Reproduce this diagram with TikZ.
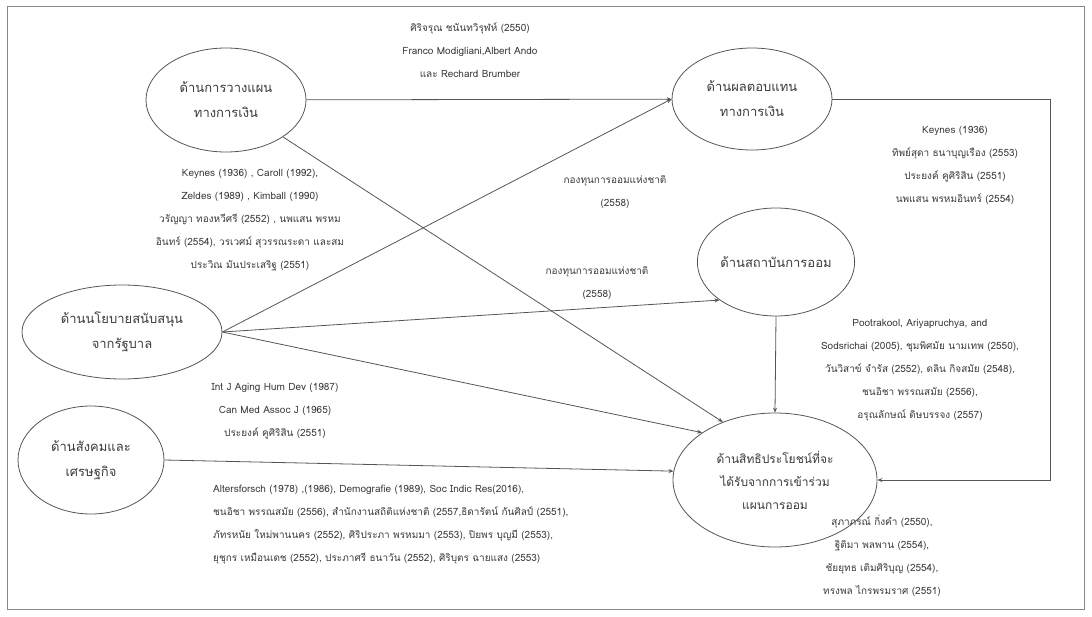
\documentclass[tikz,border=0pt]{standalone}
\usepackage{fontspec}
\newfontfamily\thai[Script=Thai]{Loma}
\usetikzlibrary{shapes.geometric,arrows.meta}
\definecolor{lin}{HTML}{555555}
\definecolor{txt}{HTML}{3A3A3A}
\tikzset{
  oval/.style={ellipse, draw=lin, line width=0.8pt, inner sep=0pt, align=center, text=txt,
    font=\thai\fontsize{13}{25}\selectfont},
  arr/.style={draw=lin, line width=0.8pt, -{Stealth[length=5pt,width=4pt]}},
  ref/.style={align=center, text=txt, inner sep=0pt, font=\thai\fontsize{10}{23}\selectfont},
  refl/.style={align=left, text=txt, inner sep=0pt, font=\thai\fontsize{10}{23}\selectfont},
}
\begin{document}
\begin{tikzpicture}[x=1pt,y=-1pt]
\useasboundingbox (0,0) rectangle (1092,616);
\draw[lin!70, line width=0.8pt] (7,6) rectangle (1084,609);

\node[oval, minimum width=160pt, minimum height=104pt] (e1) at (226,100) {ด้านการวางแผน\\ทางการเงิน};
\node[oval, minimum width=160pt, minimum height=102pt] (e2) at (752,99) {ด้านผลตอบแทน\\ทางการเงิน};
\node[oval, minimum width=140pt, minimum height=108pt] (e3) at (776,262) {ด้านสถาบันการออม};
\node[oval, minimum width=200pt, minimum height=94pt] (e4) at (122,332) {ด้านนโยบายสนับสนุน\\จากรัฐบาล};
\node[oval, minimum width=146pt, minimum height=108pt] (e5) at (91,460) {ด้านสังคมและ\\เศรษฐกิจ};
\node[oval, minimum width=204pt, minimum height=134pt, font=\thai\fontsize{12}{23}\selectfont] (e6) at (775,480) {ด้านสิทธิประโยชน์ที่จะ\\ได้รับจากการเข้าร่วม\\แผนการออม};

\coordinate (c1) at (1050,99);
\coordinate (c2) at (1050,480);

\draw[arr] (e1) -- (e2);
\draw[arr] (e1) -- (e6.132);
\draw[arr] (e4.east) -- (e2.west);
\draw[arr] (e4.east) -- (e3.214);
\draw[arr] (e4.east) -- (e6.147);
\draw[arr] (e5.east) -- (e6.175);
\draw[arr] (e3.south) -- (e6.north);
\draw[arr] (e2.east) -- (c1) -- (c2) -- (e6.east);

\node[ref] (t1) at (470,50) {ศิริจรุณ ชนันทวิรุฬห์ (2550)\\Franco Modigliani,Albert Ando\\และ Rechard Brumber};
\node[ref] (t2) at (250,220) {Keynes (1936) , Caroll (1992),\\Zeldes (1989) , Kimball (1990)\\วรัญญา ทองหวีศรี (2552) , นพแสน พรหม\\อินทร์ (2554), วรเวศม์ สุวรรณระดา และสม\\ประวิณ มันประเสริฐ (2551)};
\node[ref] (t3) at (615,192) {กองทุนการออมแห่งชาติ\\(2558)};
\node[ref] (t4) at (597,283) {กองทุนการออมแห่งชาติ\\(2558)};
\node[ref] (t5) at (955,165) {Keynes (1936)\\ทิพย์สุดา ธนาบุญเรือง (2553)\\ประยงค์ คูศิริสิน (2551)\\นพแสน พรหมอินทร์ (2554)};
\node[ref] (t6) at (920,370) {Pootrakool, Ariyapruchya, and\\Sodsrichai (2005), ชุมพิศมัย นามเทพ (2550),\\วันวิสาข์ จำรัส (2552), ดลิน กิจสมัย (2548),\\ชนอิชา พรรณสมัย (2556),\\อรุณลักษณ์ ดิษบรรจง (2557)};
\node[ref] (t7) at (275,411) {Int J Aging Hum Dev (1987)\\Can Med Assoc J (1965)\\ประยงค์ คูศิริสิน (2551)};
\node[refl, anchor=west] (t8) at (213,525) {Altersforsch (1978) ,(1986), Demografie (1989), Soc Indic Res(2016),\\ชนอิชา พรรณสมัย (2556), สำนักงานสถิติแห่งชาติ (2557,ธิดารัตน์ กันศิลป์ (2551),\\ภัทรหนัย ใหม่พานนคร (2552), ศิริประภา พรหมมา (2553), ปิยพร บุญมี (2553),\\ยุชุกร เหมือนเดช (2552), ประภาศรี ธนาวัน (2552), ศิริบุตร ฉายแสง (2553)};
\node[ref] (t9) at (882,556) {สุภาภรณ์ กิ่งคำ (2550),\\ฐิติมา พลพาน (2554),\\ชัยยุทธ เติมศิริบุญ (2554),\\ทรงพล ไกรพรมราศ (2551)};
\end{tikzpicture}
\end{document}
